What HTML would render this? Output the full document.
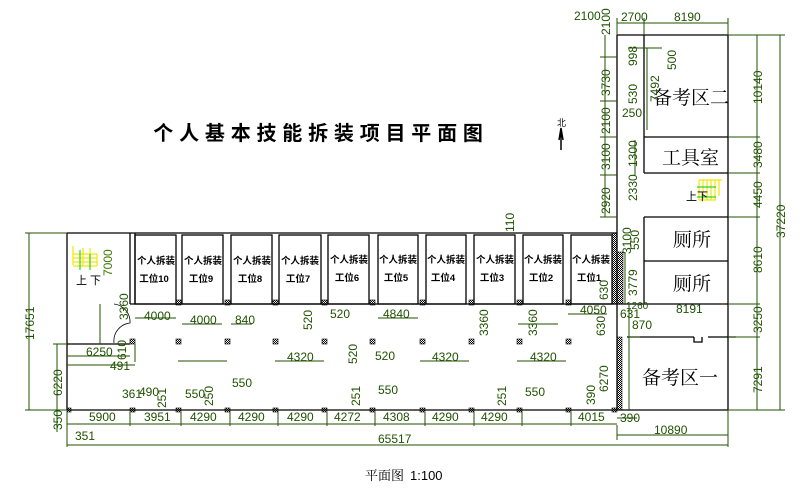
<!DOCTYPE html>
<html><head><meta charset="utf-8"><style>
html,body{margin:0;padding:0;background:#fff;}
svg{display:block}
.w{stroke:#000;stroke-width:1.3;fill:none}
.d{stroke:#1f5200;stroke-width:1;fill:none}
.t{fill:#1f5200;font-family:"Liberation Sans",sans-serif;font-size:12px}
.r{fill:#000;font-family:"Liberation Sans","Noto Sans CJK SC",sans-serif;font-size:9.5px;font-weight:bold}
.r2{fill:#000;font-family:"Liberation Sans","Noto Sans CJK SC",sans-serif;font-size:11px}
.big{fill:#000;font-family:"Liberation Sans","Noto Serif CJK SC",serif;font-size:19px}
</style></head><body>
<svg width="811" height="491" viewBox="0 0 811 491" xmlns="http://www.w3.org/2000/svg">
<defs>
<pattern id="h" width="2" height="2" patternUnits="userSpaceOnUse"><rect width="1" height="1" fill="#000"/><rect x="1" y="1" width="1" height="1" fill="#000"/></pattern>
</defs>
<text x="321" y="140" text-anchor="middle" font-family="'Liberation Sans','Noto Sans CJK SC',sans-serif" font-size="20" font-weight="bold" letter-spacing="5.8">个人基本技能拆装项目平面图</text>
<text x="557" y="126" font-family="'Noto Sans CJK SC',sans-serif" font-size="9">北</text>
<path d="M561 128 L561 150 M559 140 L561 128 L563 140" stroke="#000" stroke-width="1.5" fill="none"/>
<text x="365" y="480" font-family="'Liberation Sans','Noto Serif CJK SC',serif" font-size="13">平面图</text>
<text x="410" y="480" font-family="'Liberation Sans',sans-serif" font-size="13">1:100</text>

<path class="w" d="M67 233 H617 M67 233 V410 H617 M130 304 H617 M67 344 H130 M130 233 V304 M135 233 V304"/>
<g class="w">
<rect x="135" y="235" width="41" height="69"/><rect x="182" y="235" width="41" height="69"/>
<rect x="231" y="235" width="41" height="69"/><rect x="279" y="235" width="42" height="69"/>
<rect x="328" y="235" width="41" height="69"/><rect x="378" y="235" width="40" height="69"/>
<rect x="426" y="235" width="40" height="69"/><rect x="474" y="235" width="41" height="69"/>
<rect x="523" y="235" width="40" height="69"/><rect x="571" y="235" width="41" height="69"/>
</g>
<rect x="612" y="233" width="5" height="71" fill="url(#h)" stroke="#000" stroke-width="0.6"/>
<g class="r" text-anchor="middle">
<text x="156" y="264">个人拆装</text><text x="154" y="282">工位10</text>
<text x="203" y="264">个人拆装</text><text x="201" y="282">工位9</text>
<text x="252" y="264">个人拆装</text><text x="250" y="282">工位8</text>
<text x="300" y="264">个人拆装</text><text x="298" y="282">工位7</text>
<text x="349" y="263">个人拆装</text><text x="347" y="281">工位6</text>
<text x="398" y="263">个人拆装</text><text x="396" y="281">工位5</text>
<text x="446" y="263">个人拆装</text><text x="443" y="281">工位4</text>
<text x="495" y="263">个人拆装</text><text x="492" y="281">工位3</text>
<text x="543" y="263">个人拆装</text><text x="541" y="281">工位2</text>
<text x="591" y="263">个人拆装</text><text x="589" y="281">工位1</text>
</g>
<g fill="url(#h)" stroke="#000" stroke-width="0.6">
<rect x="130" y="339" width="5" height="5"/>
<rect x="176" y="339" width="5" height="5"/><rect x="225" y="339" width="5" height="5"/><rect x="273" y="339" width="5" height="5"/><rect x="322" y="339" width="5" height="5"/><rect x="370" y="339" width="5" height="5"/><rect x="420" y="339" width="5" height="5"/><rect x="469" y="339" width="5" height="5"/><rect x="517" y="339" width="5" height="5"/><rect x="566" y="339" width="5" height="5"/>
<rect x="176" y="300" width="5" height="5"/><rect x="225" y="300" width="5" height="5"/><rect x="273" y="300" width="5" height="5"/><rect x="322" y="300" width="5" height="5"/><rect x="370" y="300" width="5" height="5"/><rect x="420" y="300" width="5" height="5"/><rect x="469" y="300" width="5" height="5"/><rect x="517" y="300" width="5" height="5"/><rect x="566" y="300" width="5" height="5"/>
<rect x="67" y="408" width="4" height="4"/><rect x="130" y="408" width="5" height="4"/><rect x="176" y="408" width="5" height="4"/><rect x="225" y="408" width="5" height="4"/><rect x="273" y="408" width="5" height="4"/><rect x="322" y="408" width="5" height="4"/><rect x="370" y="408" width="5" height="4"/><rect x="420" y="408" width="5" height="4"/><rect x="469" y="408" width="5" height="4"/><rect x="517" y="408" width="5" height="4"/><rect x="566" y="408" width="5" height="4"/><rect x="612" y="408" width="5" height="4"/>
</g>
<path d="M114 304 A18 18 0 0 1 130 323 A18 18 0 0 0 114 343" stroke="#000" fill="none" stroke-width="0.8"/>
<g stroke="#f2e600" stroke-width="1.2"><path d="M73 246 V265 M73 254 H97 M73 258 H97 M73 262 H97 M73 266 H97 M83 248 V266 M90 248 V266 M97 254 V266"/></g>
<path d="M80 250 V270 M90 254 V270" stroke="#00c800" stroke-width="1"/>
<text x="76" y="284" class="r2">上 下</text>

<path class="w" d="M617 35 H728 V410 M617 35 V410 M644 35 V173 M644 217 V304 M644 137 H728 M644 173 H728 M644 217 H728 M644 261 H728 M617 304 H728 M627 337 H694 M694 337 V342 H702 V337 M708 337 H736 M617 410 H728"/>
<rect x="617" y="337" width="5" height="73" fill="url(#h)" stroke="#000" stroke-width="0.5"/>
<rect x="617" y="252" width="6" height="52" fill="url(#h)" stroke="#000" stroke-width="0.5"/>
<text x="653" y="104" class="big">备考区二</text>
<text x="662" y="164" class="big">工具室</text>
<text x="673" y="246" class="big">厕所</text>
<text x="673" y="290" class="big">厕所</text>
<text x="642" y="384" class="big">备考区一</text>
<g stroke="#f2e600" stroke-width="1.2"><path d="M699 180 H722 M699 180 V200 M699 200 H716 M703 180 V200 M707 180 V200 M711 180 V200 M715 180 V200 M719 180 V196"/></g>
<path d="M697 187 H716 M697 197 H716" stroke="#00c800"/>
<text x="686" y="200" class="r2" font-size="10">上下</text>

<g class="d">
<path d="M29 233 V410 M25 233 H67 M25 410 H67"/>
<path d="M57 344 V410 M53 344 H67 M57 410 V432"/>
<path d="M67 445 H728 M67 412 V447 M728 410 V447"/>
<path d="M67 424 H617 M130 412 V426 M181 412 V426 M230 412 V426 M278 412 V426 M327 412 V426 M375 412 V426 M425 412 V426 M474 412 V426 M522 412 V426 M571 412 V426"/>
<path d="M617 435 H728 M617 418 H637 M617 425 V440"/>
<path d="M67 356 H130 M67 365 H135 M100 304 V344 M135 344 V362"/>
<path d="M135 318 H176 M182 324 H222 M231 324 H252 M378 318 H418 M518 324 H558 M568 314 H607"/>
<path d="M178 361 H227 M275 361 H324 M420 361 H469 M517 361 H566"/>
<path d="M757 35 V410 M780 35 V410 M728 35 H785 M728 137 H760 M728 173 H760 M728 217 H760 M728 304 H760 M728 337 H760 M728 410 H785"/>
<path d="M617 23 H728 M617 18 V35 M644 18 V35 M728 18 V35"/>
<path d="M605 35 V217 M600 57 H617 M600 101 H617 M600 137 H617 M600 175 H617 M600 217 H617"/>
<path d="M628 48 H662 M647 48 V130 M635 140 V175"/>
<path d="M625 252 V304 M629 304 V410 M629 337 H640"/>
</g>
<g class="t">
<text transform="translate(34 340) rotate(-90)">17651</text>
<text transform="translate(62 396) rotate(-90)">6220</text>
<text transform="translate(62 430) rotate(-90)">350</text>
<text x="75" y="440">351</text>
<text x="378" y="443">65517</text>
<text x="89" y="421">5900</text><text x="144" y="421">3951</text><text x="190" y="421">4290</text><text x="238" y="421">4290</text><text x="287" y="421">4290</text><text x="334" y="421">4272</text><text x="383" y="421">4308</text><text x="432" y="421">4290</text><text x="481" y="421">4290</text><text x="578" y="421">4015</text>
<text x="620" y="422">390</text><text x="654" y="434">10890</text>
<text x="86" y="356">6250</text><text x="110" y="370">491</text>
<text transform="translate(128 320) rotate(-90)">3360</text>
<text transform="translate(126 360) rotate(-90)">610</text>
<text transform="translate(112 276) rotate(-90)" style="fill:#3c7a00">7000</text>
<text x="144" y="320">4000</text><text x="190" y="324">4000</text><text x="235" y="324">840</text>
<text x="330" y="318">520</text><text transform="translate(312 330) rotate(-90)">520</text>
<text x="383" y="318">4840</text><text x="375" y="360">520</text><text transform="translate(357 364) rotate(-90)">520</text>
<text x="287" y="361">4320</text><text x="432" y="361">4320</text><text x="530" y="361">4320</text>
<text transform="translate(488 336) rotate(-90)">3360</text><text transform="translate(537 336) rotate(-90)">3360</text>
<text x="580" y="314">4050</text><text x="620" y="318">631</text><text x="632" y="329">870</text><text x="626" y="309" font-size="10">1260</text>
<text transform="translate(608 300) rotate(-90)">630</text><text transform="translate(605 336) rotate(-90)">630</text>
<text transform="translate(608 392) rotate(-90)">6270</text><text transform="translate(595 405) rotate(-90)">390</text>
<text transform="translate(631 254) rotate(-90)">3100</text><text transform="translate(639 250) rotate(-90)">550</text><text transform="translate(637 296) rotate(-90)">3779</text>
<text transform="translate(514 232) rotate(-90)">110</text>
<text x="122" y="398">361</text><text x="139" y="396">490</text><text x="185" y="398">550</text><text x="232" y="387">550</text><text x="378" y="394">550</text><text x="525" y="396">550</text>
<text transform="translate(166 408) rotate(-90)">251</text><text transform="translate(213 406) rotate(-90)">250</text><text transform="translate(360 406) rotate(-90)">251</text><text transform="translate(506 406) rotate(-90)">251</text>
<text x="676" y="313">8191</text>
<text x="574" y="20">2100</text>
<text x="621" y="21">2700</text><text x="674" y="21">8190</text>
<text transform="translate(610 35) rotate(-90)">2100</text>
<text transform="translate(610 96) rotate(-90)">3730</text>
<text transform="translate(610 134) rotate(-90)">2100</text>
<text transform="translate(610 170) rotate(-90)">3100</text>
<text transform="translate(610 214) rotate(-90)">2920</text>
<text transform="translate(637 66) rotate(-90)">998</text>
<text transform="translate(637 104) rotate(-90)">530</text>
<text x="622" y="117">250</text>
<text transform="translate(659 102) rotate(-90)">7492</text>
<text transform="translate(676 70) rotate(-90)">500</text>
<text transform="translate(637 167) rotate(-90)">1300</text>
<text transform="translate(637 201) rotate(-90)">2330</text>
<text transform="translate(762 104) rotate(-90)">10140</text>
<text transform="translate(762 168) rotate(-90)">3480</text>
<text transform="translate(762 208) rotate(-90)">4450</text>
<text transform="translate(762 273) rotate(-90)">8610</text>
<text transform="translate(762 333) rotate(-90)">3250</text>
<text transform="translate(762 393) rotate(-90)">7291</text>
<text transform="translate(785 238) rotate(-90)">37220</text>
</g>
</svg>
</body></html>
